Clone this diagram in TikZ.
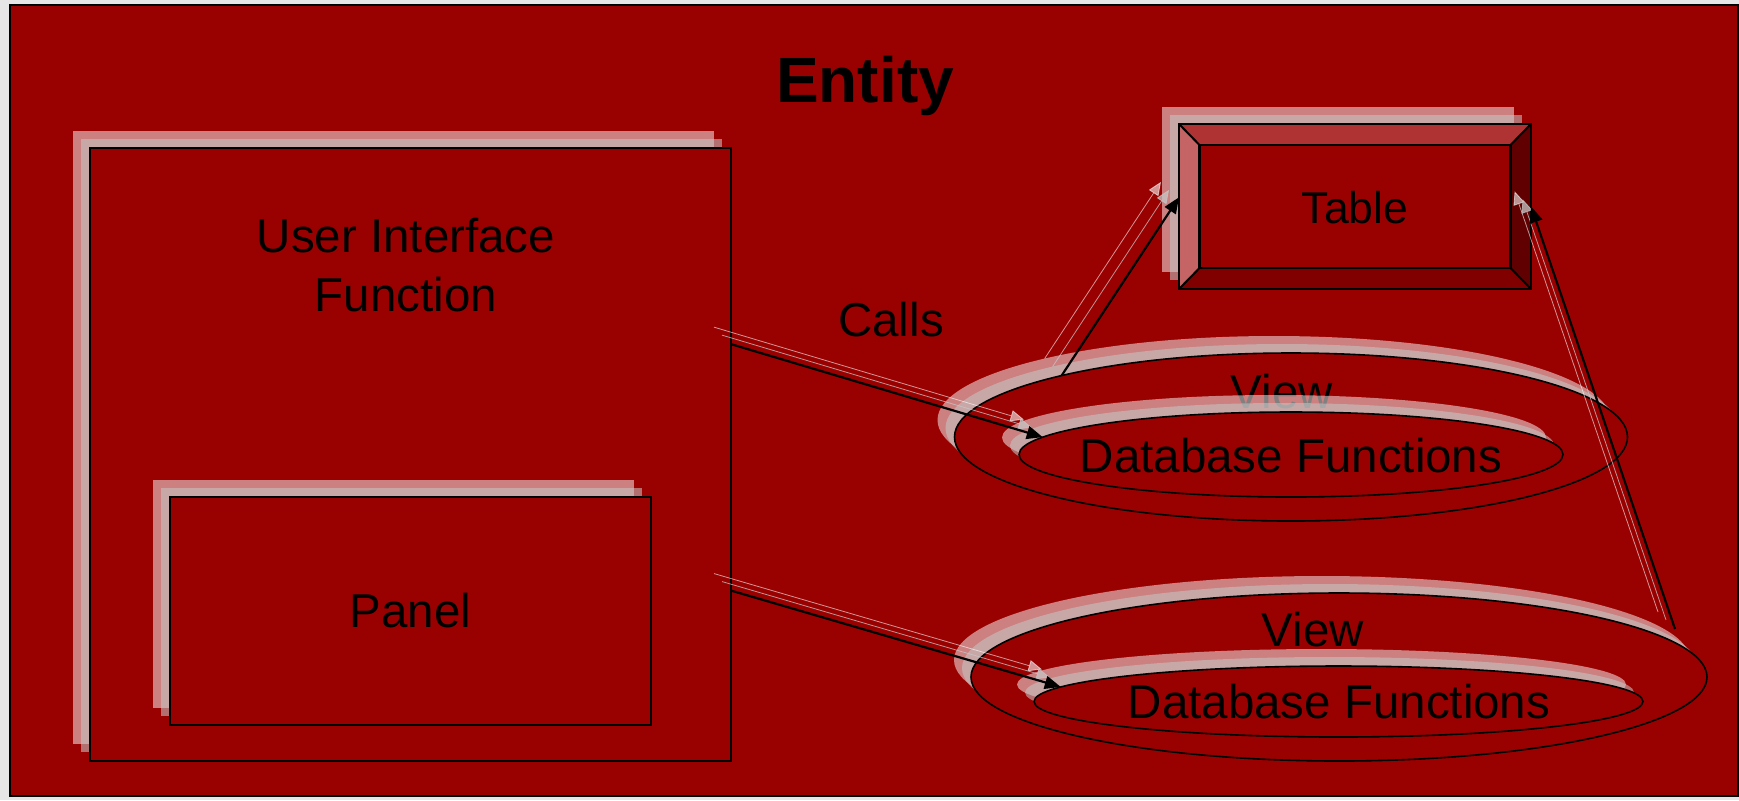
\documentclass[tikz,border=0pt]{standalone}
\usepackage{fontspec}
\setmainfont{Liberation Sans}
\usepackage{xcolor}
\usepackage{tikz}
\usetikzlibrary{arrows.meta,shapes.geometric}

\definecolor{slidered}{RGB}{153,0,0}
\definecolor{paper}{RGB}{230,230,230}
\definecolor{shadefar}{RGB}{255,255,255}
\definecolor{shadenear}{RGB}{198,198,198}
\definecolor{beveltop}{RGB}{176,51,51}
\definecolor{bevelleft}{RGB}{196,100,100}
\definecolor{bevelright}{RGB}{96,0,0}
\definecolor{bevelbottom}{RGB}{128,0,0}

\tikzset{
  shadefill/.style={
    preaction={fill=shadefar, opacity=.5, transform canvas={shift={(-8.5pt,8.5pt)}}},
    preaction={fill=shadenear, opacity=.57, transform canvas={shift={(-4.5pt,4.5pt)}}}},
  shadeline/.style={
    preaction={draw=shadefar, opacity=.58, transform canvas={shift={(-8.5pt,8.5pt)}}},
    preaction={draw=shadenear, opacity=.75, transform canvas={shift={(-4.5pt,4.5pt)}}}},
  box/.style={shadefill, draw=black, line width=0.8pt, fill=slidered, inner sep=0pt, outer sep=0pt},
  ring/.style={ellipse, shadefill, draw=black, line width=0.8pt, fill=slidered, inner sep=0pt, outer sep=0pt},
  txt/.style={inner sep=0pt, font=\fontsize{23.75}{29.5}\selectfont},
  calls/.style={shadeline, line width=1.1pt, -{Triangle[length=8pt,width=6.5pt]}}
}

\begin{document}
\begin{tikzpicture}[x=0.5pt,y=-0.5pt]
  \useasboundingbox (0,0) rectangle (1739,800);
  \fill[paper] (0,0) rectangle (1739,800);
  \draw[fill=slidered, line width=1pt] (10,5) rectangle (1738,796);
  \node[anchor=base, inner sep=0pt, font=\bfseries\fontsize{32}{38}\selectfont] (entity) at (865,102) {Entity};

  \node[box, minimum width=320.5pt, minimum height=306.5pt] (uibox) at (410.5,454.5) {};
  \node[txt, align=center] (uitext) at (406,265) {User Interface\\Function};
  \node[box, txt, minimum width=240.5pt, minimum height=114pt] (panel) at (410.5,611) {Panel};

  \node[box, line width=1.2pt, minimum width=176pt, minimum height=82.5pt] (table) at (1355,206.5) {};
  \node[inner sep=0pt, outer sep=0pt, minimum width=155.5pt, minimum height=61.5pt] (tablein) at (table) {};
  \fill[beveltop] (table.north west) -- (table.north east) -- (tablein.north east) -- (tablein.north west) -- cycle;
  \fill[bevelleft] (table.north west) -- (tablein.north west) -- (tablein.south west) -- (table.south west) -- cycle;
  \fill[bevelright] (table.north east) -- (table.south east) -- (tablein.south east) -- (tablein.north east) -- cycle;
  \fill[bevelbottom] (table.south west) -- (tablein.south west) -- (tablein.south east) -- (table.south east) -- cycle;
  \draw[line width=1.2pt] (table.north west) rectangle (table.south east);
  \draw[line width=1.2pt] (tablein.north west) rectangle (tablein.south east);
  \draw[line width=1pt] (table.north west) -- (tablein.north west);
  \draw[line width=1pt] (table.north east) -- (tablein.north east);
  \draw[line width=1pt] (table.south west) -- (tablein.south west);
  \draw[line width=1pt] (table.south east) -- (tablein.south east);
  \node[txt, font=\fontsize{22.25}{27}\selectfont] (tabletext) at (1355,208) {Table};

  \node[ring, minimum width=336.5pt, minimum height=84pt] (view1) at (1291,437) {};
  \node[txt] (view1txt) at (1282,391.5) {View};
  \node[ring, minimum width=272pt, minimum height=42.5pt] (db1) at (1291,454.5) {};
  \node[txt] (db1txt) at (1291,456) {Database Functions};

  \node[ring, minimum width=368pt, minimum height=84pt] (view2) at (1339,677) {};
  \node[txt] (view2txt) at (1313,630) {View};
  \node[ring, minimum width=304.5pt, minimum height=35.5pt] (db2) at (1338.5,701.5) {};
  \node[txt] (db2txt) at (1339,701.5) {Database Functions};

  \node[txt] (callstxt) at (891,320) {Calls};
  \coordinate (v2edge) at (1675,629);

  \draw[calls] (uibox.19.5) -- (db1.176);
  \draw[calls] (uibox.-23.4) -- (db2.177.4);
  \draw[calls] (view1.165) -- (table.177.2);
  \draw[calls] (v2edge) -- (table.east);
\end{tikzpicture}
\end{document}
